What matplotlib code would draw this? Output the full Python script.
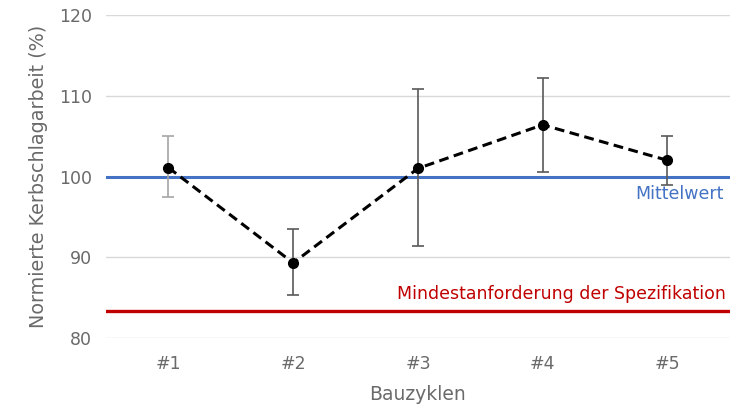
import matplotlib
matplotlib.use("Agg")
import matplotlib.pyplot as plt

plt.rcParams["font.family"] = ["DejaVu Sans"]

cycles = ["#1", "#2", "#3", "#4", "#5"]
energy = [101.1, 89.3, 101.0, 106.4, 102.0]
err_upper = [105.0, 93.5, 110.8, 112.2, 105.0]
err_lower = [97.5, 85.3, 91.4, 100.6, 99.0]
mean_level = 100.0
min_requirement = 83.3

TEXT = "#6a6a6a"
GRID = "#d9d9d9"
BLUE = "#4472c4"
RED = "#c00000"

fig = plt.figure(figsize=(7.44, 4.09), dpi=100)
ax = fig.add_axes([0.1425, 0.1736, 0.8385, 0.7897])

x = list(range(len(cycles)))
ax.set_xlim(-0.5, len(cycles) - 0.5)
ax.set_ylim(80, 120)
ax.set_yticks([80, 90, 100, 110, 120])
ax.yaxis.grid(True, color=GRID, linewidth=1.0)
ax.set_axisbelow(True)

ax.axhline(mean_level, color=BLUE, linewidth=2.2, zorder=2)
ax.axhline(min_requirement, color=RED, linewidth=2.4, zorder=2)

bar_colors = ["#a6a6a6", "#595959", "#595959", "#595959", "#595959"]
for xi, y, hi, lo, c in zip(x, energy, err_upper, err_lower, bar_colors):
    ax.errorbar(xi, y, yerr=[[y - lo], [hi - y]], fmt="none", ecolor=c,
                elinewidth=1.2, capsize=4, capthick=1.2, zorder=3)

ax.plot(x, energy, color="black", linestyle=(0, (3.2, 1.8)), linewidth=2.2,
        marker="o", markersize=7, zorder=4)

ax.text(4.45, mean_level - 1.1, "Mittelwert", color=BLUE, fontsize=12.5,
        ha="right", va="top")
ax.text(4.47, min_requirement + 1.0, "Mindestanforderung der Spezifikation",
        color=RED, fontsize=12.5, ha="right", va="bottom")

ax.set_xticks(x)
ax.set_xticklabels(cycles)
ax.tick_params(axis="x", length=0, colors=TEXT, labelsize=12.5, pad=12)
ax.tick_params(axis="y", length=0, colors=TEXT, labelsize=12.5, pad=10)
ax.set_xlabel("Bauzyklen", color=TEXT, fontsize=13.5, labelpad=9)
ax.set_ylabel("Normierte Kerbschlagarbeit (%)", color=TEXT, fontsize=13.8,
              labelpad=8)

for spine in ax.spines.values():
    spine.set_visible(False)

fig.savefig("out.png", dpi=100)
